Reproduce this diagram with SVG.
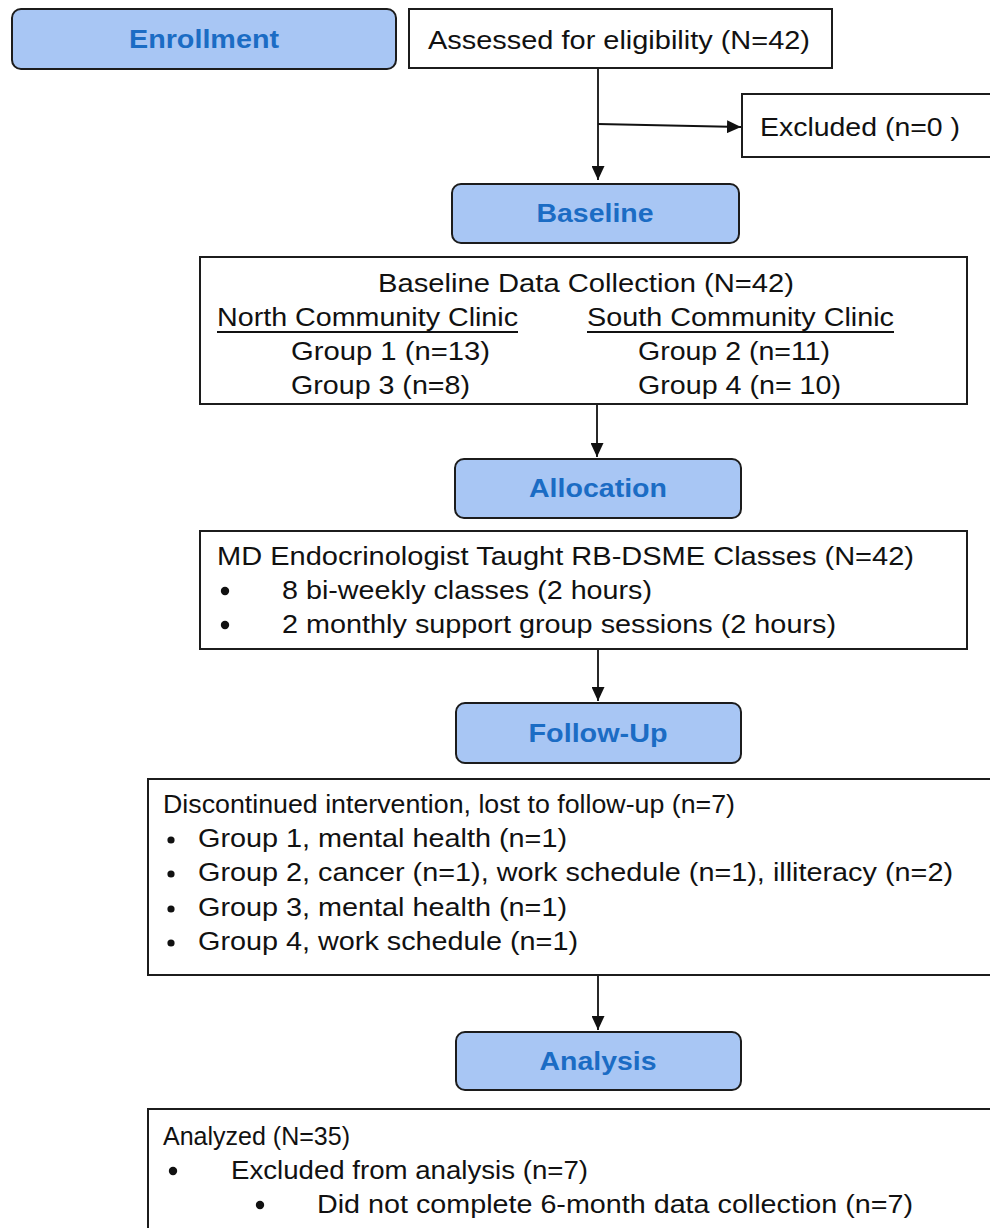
<svg xmlns="http://www.w3.org/2000/svg" width="990" height="1228" viewBox="0 0 990 1228">
<defs>
<style>
.stage{fill:#a8c6f4;stroke:#1c1c1c;stroke-width:2}
.box{fill:#ffffff;stroke:#1c1c1c;stroke-width:2}
.st{font-family:"Liberation Sans",Arial,sans-serif;font-weight:bold;font-size:25px;fill:#1b6cc4;text-anchor:middle}
.t{font-family:"Liberation Sans",Arial,sans-serif;font-size:25px;fill:#111111}
.ln{stroke:#111111;stroke-width:1.8;fill:none}
</style>
<marker id="ah" viewBox="0 0 14 13" refX="14" refY="6.5" markerWidth="14" markerHeight="13" markerUnits="userSpaceOnUse" orient="auto">
<path d="M0,0 L14,6.5 L0,13 z" fill="#111111"/>
</marker>
</defs>
<rect width="990" height="1228" fill="#ffffff"/>

<g id="connectors">
<line class="ln" x1="598" y1="68" x2="598" y2="180" marker-end="url(#ah)"/>
<line class="ln" x1="598" y1="124" x2="741" y2="127" marker-end="url(#ah)"/>
<line class="ln" x1="597" y1="404" x2="597" y2="457" marker-end="url(#ah)"/>
<line class="ln" x1="598" y1="649" x2="598" y2="701" marker-end="url(#ah)"/>
<line class="ln" x1="598" y1="975" x2="598" y2="1030" marker-end="url(#ah)"/>
</g>

<g id="enrollment">
<rect class="stage" x="12" y="9" width="384" height="60" rx="9"/>
<text class="st" x="204" y="48" textLength="150" lengthAdjust="spacingAndGlyphs">Enrollment</text>
</g>

<g id="assessed">
<rect class="box" x="409" y="9" width="423" height="59"/>
<text class="t" x="428" y="49" textLength="382" lengthAdjust="spacingAndGlyphs">Assessed for eligibility (N=42)</text>
</g>

<g id="excluded">
<rect class="box" x="742" y="94" width="260" height="63"/>
<text class="t" x="760" y="136" textLength="200" lengthAdjust="spacingAndGlyphs">Excluded (n=0 )</text>
</g>

<g id="baseline">
<rect class="stage" x="452" y="184" width="287" height="59" rx="9"/>
<text class="st" x="595" y="222" textLength="117" lengthAdjust="spacingAndGlyphs">Baseline</text>
</g>

<g id="baseline-data">
<rect class="box" x="200" y="257" width="767" height="147"/>
<text class="t" x="378" y="292" textLength="416" lengthAdjust="spacingAndGlyphs">Baseline Data Collection (N=42)</text>
<text class="t" x="217" y="326" textLength="301" lengthAdjust="spacingAndGlyphs">North Community Clinic</text>
<line x1="217" y1="332" x2="518" y2="332" stroke="#111" stroke-width="2"/>
<text class="t" x="587" y="326" textLength="307" lengthAdjust="spacingAndGlyphs">South Community Clinic</text>
<line x1="587" y1="332" x2="894" y2="332" stroke="#111" stroke-width="2"/>
<text class="t" x="291" y="360" textLength="199" lengthAdjust="spacingAndGlyphs">Group 1 (n=13)</text>
<text class="t" x="638" y="360" textLength="192" lengthAdjust="spacingAndGlyphs">Group 2 (n=11)</text>
<text class="t" x="291" y="394" textLength="179" lengthAdjust="spacingAndGlyphs">Group 3 (n=8)</text>
<text class="t" x="638" y="394" textLength="203" lengthAdjust="spacingAndGlyphs">Group 4 (n= 10)</text>
</g>

<g id="allocation">
<rect class="stage" x="455" y="459" width="286" height="59" rx="9"/>
<text class="st" x="598" y="497" textLength="138" lengthAdjust="spacingAndGlyphs">Allocation</text>
</g>

<g id="classes">
<rect class="box" x="200" y="531" width="767" height="118"/>
<text class="t" x="217" y="565" textLength="697" lengthAdjust="spacingAndGlyphs">MD Endocrinologist Taught RB-DSME Classes  (N=42)</text>
<circle cx="225" cy="591" r="4.2" fill="#111"/>
<text class="t" x="282" y="599" textLength="370" lengthAdjust="spacingAndGlyphs">8 bi-weekly classes (2 hours)</text>
<circle cx="225" cy="625" r="4.2" fill="#111"/>
<text class="t" x="282" y="633" textLength="554" lengthAdjust="spacingAndGlyphs">2 monthly support group sessions (2 hours)</text>
</g>

<g id="follow-up">
<rect class="stage" x="456" y="703" width="285" height="60" rx="9"/>
<text class="st" x="598" y="742" textLength="139" lengthAdjust="spacingAndGlyphs">Follow-Up</text>
</g>

<g id="discontinued">
<rect class="box" x="148" y="779" width="860" height="196"/>
<text class="t" x="163" y="813" textLength="572" lengthAdjust="spacingAndGlyphs">Discontinued intervention, lost to follow-up (n=7)</text>
<circle cx="171" cy="840" r="3.6" fill="#111"/>
<text class="t" x="198" y="847" textLength="369" lengthAdjust="spacingAndGlyphs">Group 1, mental health (n=1)</text>
<circle cx="171" cy="874" r="3.6" fill="#111"/>
<text class="t" x="198" y="881" textLength="755" lengthAdjust="spacingAndGlyphs">Group 2, cancer (n=1), work schedule (n=1), illiteracy (n=2)</text>
<circle cx="171" cy="909" r="3.6" fill="#111"/>
<text class="t" x="198" y="916" textLength="369" lengthAdjust="spacingAndGlyphs">Group 3, mental health (n=1)</text>
<circle cx="171" cy="943" r="3.6" fill="#111"/>
<text class="t" x="198" y="950" textLength="380" lengthAdjust="spacingAndGlyphs">Group 4, work schedule (n=1)</text>
</g>

<g id="analysis">
<rect class="stage" x="456" y="1032" width="285" height="58" rx="9"/>
<text class="st" x="598" y="1070" textLength="117" lengthAdjust="spacingAndGlyphs">Analysis</text>
</g>

<g id="analyzed">
<rect class="box" x="148" y="1109" width="860" height="130"/>
<text class="t" x="163" y="1145" textLength="187" lengthAdjust="spacingAndGlyphs">Analyzed (N=35)</text>
<circle cx="173" cy="1171" r="4.2" fill="#111"/>
<text class="t" x="231" y="1179" textLength="357" lengthAdjust="spacingAndGlyphs">Excluded from analysis (n=7)</text>
<circle cx="260" cy="1205" r="4.2" fill="#111"/>
<text class="t" x="317" y="1213" textLength="596" lengthAdjust="spacingAndGlyphs">Did not complete 6-month data collection (n=7)</text>
</g>
</svg>
